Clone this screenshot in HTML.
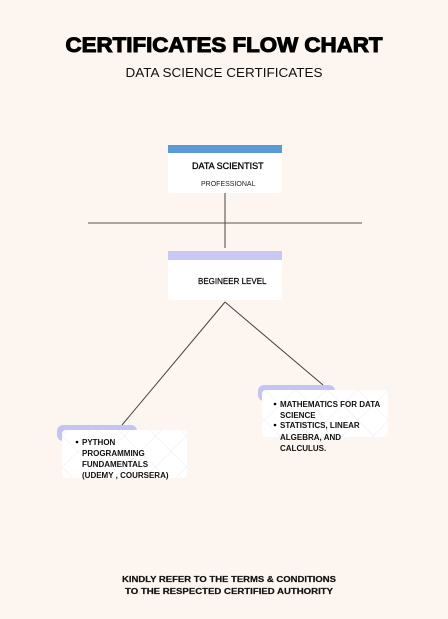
<!DOCTYPE html>
<html><head><meta charset="utf-8"><style>
html,body{margin:0;padding:0;background:#fdf5ef;}
svg{display:block;font-family:"Liberation Sans",sans-serif;}
</style></head><body>
<svg width="448" height="619" viewBox="0 0 448 619" xmlns="http://www.w3.org/2000/svg">
<defs>
<pattern id="grid" width="22" height="22" patternUnits="userSpaceOnUse" patternTransform="rotate(45)">
<rect width="22" height="22" fill="#fff"/>
<path d="M0 0H22M0 0V22" stroke="#ececf0" stroke-width="1" fill="none"/>
</pattern>
</defs>
<rect width="448" height="619" fill="#fdf5ef"/>
<text x="224" y="52" text-anchor="middle" font-weight="bold" font-size="21" textLength="317" lengthAdjust="spacingAndGlyphs" fill="#000" stroke="#000" stroke-width="1">CERTIFICATES FLOW CHART</text>
<text x="224" y="77" text-anchor="middle" font-size="13" textLength="197" lengthAdjust="spacingAndGlyphs" fill="#111">DATA SCIENCE CERTIFICATES</text>

<rect x="168" y="145" width="114" height="48" rx="3" fill="#fff"/>
<rect x="168" y="145" width="114" height="8" fill="#5b9bd5"/>
<text x="192" y="169" font-size="9" fill="#000" stroke="#000" stroke-width="0.3">DATA SCIENTIST</text>
<text x="201" y="186" font-size="7" fill="#222">PROFESSIONAL</text>

<line x1="225" y1="193" x2="225" y2="248" stroke="#444" stroke-width="1"/>
<line x1="88" y1="223" x2="362" y2="223" stroke="#555" stroke-width="1"/>

<rect x="168" y="251" width="114" height="49" rx="3" fill="#fff"/>
<rect x="168" y="251" width="114" height="9" fill="#c8c8f4"/>
<text x="198" y="284" font-size="8" fill="#000" stroke="#000" stroke-width="0.2">BEGINEER LEVEL</text>

<line x1="225" y1="302" x2="122" y2="425" stroke="#444" stroke-width="1"/>
<line x1="225" y1="302" x2="323" y2="385" stroke="#444" stroke-width="1"/>

<rect x="57" y="425" width="80" height="16" rx="6" fill="#c4c4f2"/>
<rect x="62" y="430" width="125" height="48" rx="4" fill="url(#grid)"/>
<circle cx="77" cy="442" r="1.3" fill="#000"/>
<g font-size="8" font-weight="bold" fill="#111">
<text x="82" y="445">PYTHON</text>
<text x="82" y="456">PROGRAMMING</text>
<text x="82" y="467">FUNDAMENTALS</text>
<text x="82" y="478">(UDEMY , COURSERA)</text>
</g>

<rect x="258" y="385" width="77" height="16" rx="6" fill="#c4c4f2"/>
<rect x="262" y="390" width="126" height="47" rx="4" fill="url(#grid)"/>
<circle cx="275" cy="404" r="1.3" fill="#000"/>
<circle cx="275" cy="425" r="1.3" fill="#000"/>
<g font-size="8" font-weight="bold" fill="#111">
<text x="280" y="407">MATHEMATICS FOR DATA</text>
<text x="280" y="418">SCIENCE</text>
<text x="280" y="428">STATISTICS, LINEAR</text>
<text x="280" y="440">ALGEBRA, AND</text>
<text x="280" y="451">CALCULUS.</text>
</g>

<g font-size="8" font-weight="bold" fill="#111" stroke="#111" stroke-width="0.2" text-anchor="middle">
<text x="229" y="582" textLength="214" lengthAdjust="spacingAndGlyphs">KINDLY REFER TO THE TERMS &amp; CONDITIONS</text>
<text x="229" y="594" textLength="208" lengthAdjust="spacingAndGlyphs">TO THE RESPECTED CERTIFIED AUTHORITY</text>
</g>
</svg>
</body></html>
